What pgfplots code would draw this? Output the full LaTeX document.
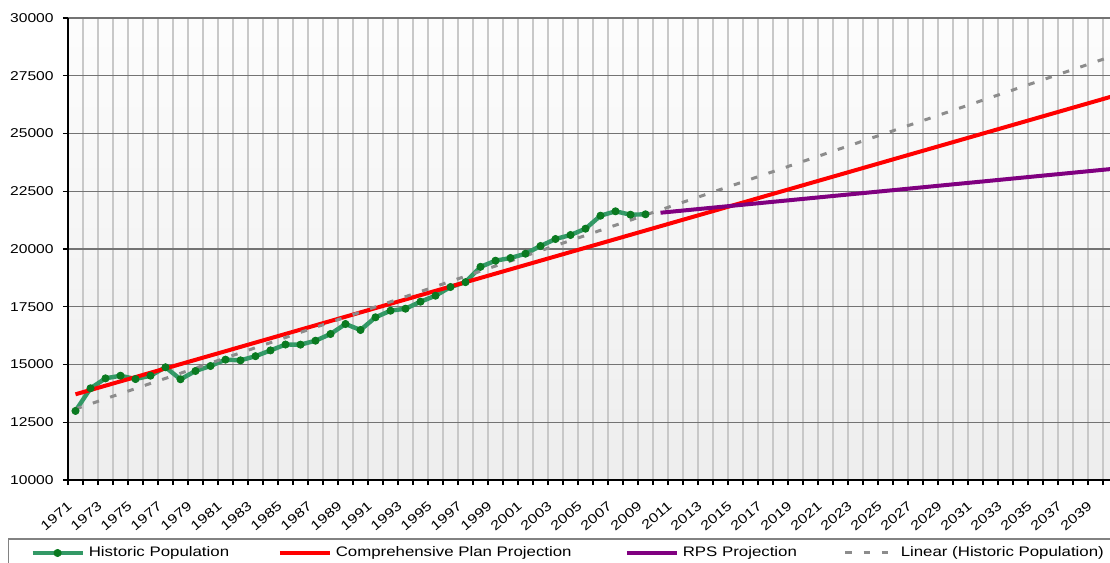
\documentclass[border=0pt]{standalone}
\usepackage{fontspec}
\setmainfont{Liberation Sans}[FakeStretch=1.22]
\usepackage{pgfplots}
\pgfplotsset{compat=1.18}

\definecolor{histline}{RGB}{51,153,102}
\definecolor{histmark}{RGB}{10,122,32}
\definecolor{rps}{RGB}{128,0,128}
\definecolor{trend}{RGB}{140,140,140}
\definecolor{hgrid}{RGB}{115,115,115}
\definecolor{vgrid}{RGB}{200,200,200}
\definecolor{legframe}{RGB}{130,130,130}

\pgfplotstableread{
year pop
1971 12990
1972 13970
1973 14400
1974 14515
1975 14370
1976 14515
1977 14880
1978 14360
1979 14720
1980 14935
1981 15210
1982 15180
1983 15360
1984 15610
1985 15865
1986 15860
1987 16030
1988 16320
1989 16753
1990 16494
1991 17043
1992 17329
1993 17416
1994 17719
1995 17978
1996 18355
1997 18565
1998 19228
1999 19494
2000 19610
2001 19797
2002 20130
2003 20433
2004 20606
2005 20879
2006 21442
2007 21632
2008 21485
2009 21502
}\historic

\begin{document}
\begin{tikzpicture}
\begin{axis}[
  at={(34pt,41.5pt)}, anchor=south west,
  scale only axis, width=525pt, height=231pt,
  xmin=1970.5, xmax=2040.5, ymin=10000, ymax=30000,
  axis x line*=bottom, axis y line*=left,
  axis line style={black, line width=0.7pt},
  /pgf/number format/assume math mode=true,
  /pgf/number format/1000 sep={},
  scaled y ticks=false,
  ytick={10000,12500,...,30000},
  xtick={1971,1973,...,2039},
  minor xtick={1970.5,1971.5,...,2040.5},
  ymajorgrids, xminorgrids,
  major grid style={hgrid, line width=0.6pt},
  minor grid style={vgrid, line width=0.6pt},
  tick align=outside,
  major tick length=2.5pt, minor tick length=2.5pt,
  every major x tick/.append style={draw=none},
  tick style={black, line width=0.6pt},
  yticklabel style={font=\fontsize{6.4pt}{7.5pt}\selectfont, inner sep=0pt, anchor=east, xshift=-4.5pt},
  xticklabel style={font=\fontsize{6.6pt}{7.5pt}\selectfont, inner sep=0pt, xshift=-4.3pt, yshift=-7.8pt, rotate=40, anchor=north east},
  axis background/.style={top color=white!99!black, bottom color=white!93!black},
  legend columns=4,
  legend cell align=left,
  legend style={at={(-0.0362,-0.158)}, anchor=west, draw=none, fill=none,
    inner sep=0pt, column sep=2pt, nodes={inner sep=0pt},
    font=\fontsize{6.9pt}{8pt}\selectfont},
  legend image code/.code={\draw[mark repeat=2,mark phase=2,#1] plot coordinates {(0pt,0pt) (12.5pt,0pt) (25pt,0pt)};},
]
\addplot[histline, line width=2.2pt, mark=*, mark size=1.8pt, mark options={fill=histmark, draw=histmark, line width=0.4pt}] table[x=year, y=pop] {\historic};
\addlegendentry{\makebox[92.5pt][l]{Historic Population}}
\addplot[red, line width=2pt] coordinates {(1971,13710) (2040,26585)};
\addlegendentry{\makebox[142.5pt][l]{Comprehensive Plan Projection}}
\addplot[rps, line width=2pt] coordinates {(2010,21570) (2040,23460)};
\addlegendentry{\makebox[78.5pt][l]{RPS Projection}}
\addplot[trend, line width=1.5pt, dash pattern=on 3.25pt off 5.9pt] coordinates {(1971,13074) (2040,28323)};
\addlegendentry{Linear (Historic Population)}
\end{axis}
\draw[legframe, line width=0.8pt] (4.15pt,-5pt) rectangle (560pt,11.85pt);
\pgfresetboundingbox
\path[use as bounding box] (0,0) rectangle (555pt,281.5pt);
\end{tikzpicture}
\end{document}
